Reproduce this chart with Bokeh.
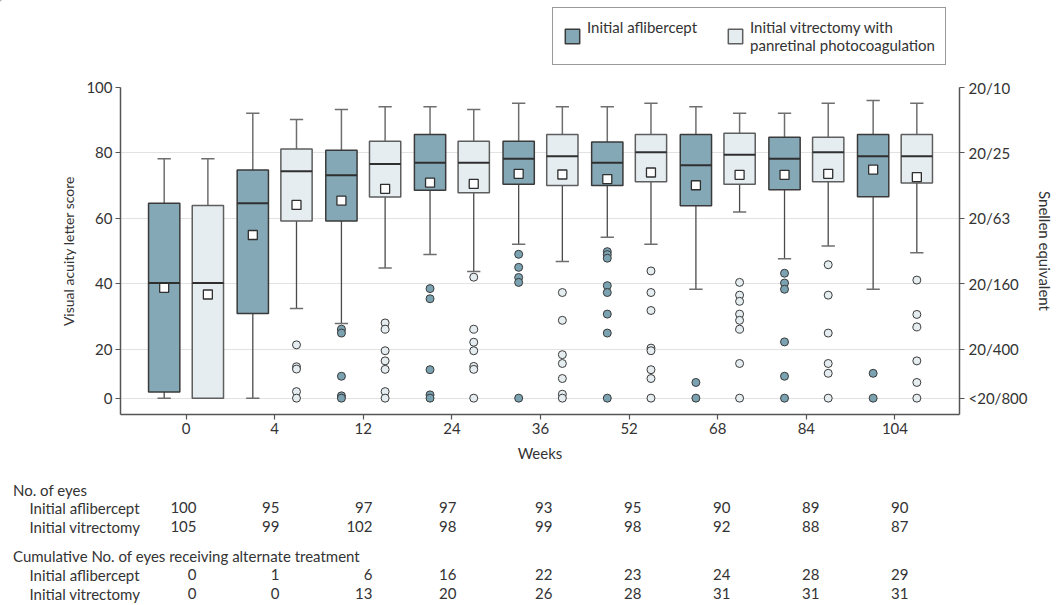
from bokeh.plotting import figure
from bokeh.models import ColumnDataSource, Range1d, LinearAxis, FixedTicker, Legend, LegendItem
from bokeh.layouts import column
from bokeh.embed import file_html
from bokeh.resources import INLINE
from bokeh.core.properties import value

FONT = "Lato"
TXT = "#333333"
FS = "15px"

# ---------------- data ----------------
weeks = ["0", "4", "12", "24", "36", "52", "68", "84", "104"]

# Initial aflibercept (plotted letter-score positions; the "0" line sits at 5)
aff_low = [5, 5, 27.8, 48.9, 52.1, 54.2, 38.3, 47.6, 38.3]
aff_q1 = [6.9, 30.9, 59.2, 68.6, 70.4, 70.0, 63.8, 68.7, 66.6]
aff_med = [40.2, 64.6, 73.2, 77.0, 78.2, 77.0, 76.2, 78.2, 79.0]
aff_q3 = [64.6, 74.8, 80.8, 85.6, 83.6, 83.3, 85.6, 84.8, 85.6]
aff_high = [78.2, 92.1, 93.3, 94.1, 95.2, 94.1, 94.1, 92.1, 96.0]
aff_mean = [38.7, 54.9, 65.4, 70.9, 73.6, 72.0, 70.1, 73.3, 74.9]
aff_out = [
    [],
    [],
    [26.1, 24.9, 11.7, 5.7, 5],
    [38.5, 35.4, 13.7, 6.0, 5],
    [49.0, 45.0, 41.9, 40.4, 5],
    [49.8, 48.9, 47.8, 39.4, 37.3, 30.7, 24.9, 5],
    [9.8, 5],
    [43.2, 40.2, 38.3, 22.2, 11.7, 5],
    [12.6, 5],
]

# Initial vitrectomy with panretinal photocoagulation
vit_low = [5, 32.4, 44.8, 43.7, 46.8, 52.1, 61.9, 51.5, 49.5]
vit_q1 = [5, 59.2, 66.5, 67.8, 70.0, 71.2, 70.4, 71.2, 70.8]
vit_med = [40.2, 74.4, 76.6, 77.0, 79.0, 80.2, 79.4, 80.2, 79.0]
vit_q3 = [63.9, 81.2, 83.6, 83.6, 85.6, 85.6, 86.0, 84.8, 85.6]
vit_high = [78.2, 90.2, 94.1, 93.3, 94.1, 95.2, 92.1, 95.2, 95.2]
vit_mean = [36.7, 64.1, 69.0, 70.5, 73.4, 74.0, 73.3, 73.6, 72.6]
vit_out = [
    [],
    [21.3, 14.6, 13.9, 7.0, 5],
    [28.0, 26.1, 19.5, 16.4, 13.8, 7.0, 5],
    [42.0, 26.1, 22.1, 19.5, 14.7, 13.8, 5],
    [37.3, 28.8, 18.3, 15.6, 11.0, 6.2, 5],
    [43.9, 37.3, 31.8, 20.3, 19.5, 13.7, 11.0, 5],
    [40.4, 36.5, 34.6, 30.7, 28.8, 26.1, 15.6, 5],
    [45.8, 36.5, 24.9, 15.6, 12.6, 5],
    [41.1, 30.6, 26.8, 16.4, 9.8, 5],
]

score_ticks = [5, 20, 40, 60, 80, 100]
score_labels = ["0", "20", "40", "60", "80", "100"]
snellen_labels = ["<20/800", "20/400", "20/160", "20/63", "20/25", "20/10"]

n_aff = [100, 95, 97, 97, 93, 95, 90, 89, 90]
n_vit = [105, 99, 102, 98, 99, 98, 92, 88, 87]
alt_aff = [0, 1, 6, 16, 22, 23, 24, 28, 29]
alt_vit = [0, 0, 13, 20, 26, 28, 31, 31, 31]

# ---------------- layout / style ----------------
AFF_FILL = "#84a8b6"
VIT_FILL = "#e5edf1"
AFF_OUT = "#7ba2b1"
AFF_LINE = "#3a3a3a"
VIT_LINE = "#5e5e5e"
OFF = 0.2465
BW = 0.353
CAP = 0.15

W = 1057
LH, CH, TH = 74, 396, 133      # legend strip, chart, table heights
FL, FR = 120, 965              # chart frame left / right (px)

# ---------------- legend strip ----------------
lf = figure(width=W, height=LH, output_backend="svg", toolbar_location=None,
            x_range=Range1d(0, W), y_range=Range1d(LH, 0),
            x_axis_location=None, y_axis_location=None, min_border=0, frame_align=False)
lf.outline_line_color = None
lf.xgrid.visible = False
lf.ygrid.visible = False
# swatch carriers kept outside the visible strip; only their legend glyphs show
leg_a = lf.vbar(x=[-100], top=[-100], bottom=[-120], width=1,
                fill_color=AFF_FILL, line_color=AFF_LINE, line_width=1.5)
leg_v = lf.vbar(x=[-100], top=[-100], bottom=[-120], width=1,
                fill_color=VIT_FILL, line_color=VIT_LINE, line_width=1.5)
legend = Legend(items=[
    LegendItem(label="Initial aflibercept\n\u00a0", renderers=[leg_a]),
    LegendItem(label="Initial vitrectomy with\npanretinal photocoagulation", renderers=[leg_v]),
], orientation="horizontal", location=(552, 9), margin=0, padding=10,
    spacing=29, label_standoff=6, glyph_width=18, glyph_height=18,
    label_text_font=FONT, label_text_font_size=FS, label_text_color=TXT,
    border_line_color="#333333", border_line_width=1.2, background_fill_alpha=1)
lf.add_layout(legend, "center")

# ---------------- chart ----------------
p = figure(width=W, height=CH, output_backend="svg", toolbar_location=None,
           x_range=Range1d(-0.7395, 8.728), y_range=Range1d(0, 100),
           min_border_left=FL, min_border_right=W - FR,
           min_border_top=13, min_border_bottom=56, frame_align=False)
p.outline_line_color = None
p.xgrid.visible = False
p.ygrid.grid_line_color = "#e2e2e2"
p.ygrid.grid_line_width = 1.2


def group_source(offset, low, q1, med, q3, high, mean):
    xs = [i + offset for i in range(len(weeks))]
    return ColumnDataSource(dict(
        x=xs, xl=[x - BW / 2 for x in xs], xr=[x + BW / 2 for x in xs],
        cl=[x - CAP / 2 for x in xs], cr=[x + CAP / 2 for x in xs],
        low=low, q1=q1, med=med, q3=q3, high=high, mean=mean))


def draw_group(src, fill, line, out_lists, out_fill, offset):
    p.segment(x0="x", y0="q3", x1="x", y1="high", source=src, line_color="#6e6e6e", line_width=1.5)
    p.segment(x0="x", y0="q1", x1="x", y1="low", source=src, line_color="#4a4a4a", line_width=1.3)
    p.segment(x0="cl", y0="high", x1="cr", y1="high", source=src, line_color="#6e6e6e", line_width=1.5)
    p.segment(x0="cl", y0="low", x1="cr", y1="low", source=src, line_color="#6e6e6e", line_width=1.5)
    p.vbar(x="x", width=BW, top="q3", bottom="q1", source=src,
           fill_color=fill, line_color=line, line_width=1.5)
    p.segment(x0="xl", y0="med", x1="xr", y1="med", source=src, line_color="#2f2f2f", line_width=2)
    p.scatter(x="x", y="mean", source=src, marker="square", size=9,
              fill_color="white", line_color="#2f2f2f", line_width=1.3)
    ox, oy = [], []
    for i, vals in enumerate(out_lists):
        for v in vals:
            ox.append(i + offset)
            oy.append(v)
    p.scatter(x=ox, y=oy, marker="circle", size=8, fill_color=out_fill,
              line_color="#3a3a3a", line_width=1)


src_a = group_source(-OFF, aff_low, aff_q1, aff_med, aff_q3, aff_high, aff_mean)
src_v = group_source(OFF, vit_low, vit_q1, vit_med, vit_q3, vit_high, vit_mean)
draw_group(src_a, AFF_FILL, AFF_LINE, aff_out, AFF_OUT, -OFF)
draw_group(src_v, VIT_FILL, VIT_LINE, vit_out, VIT_FILL, OFF)

ax = p.xaxis[0]
ax.ticker = FixedTicker(ticks=list(range(len(weeks))))
ax.major_label_overrides = {i: w for i, w in enumerate(weeks)}
ax.axis_label = "Weeks"

ay = p.yaxis[0]
ay.ticker = FixedTicker(ticks=score_ticks)
ay.major_label_overrides = dict(zip(score_ticks, score_labels))
ay.axis_label = "Visual acuity letter score"

ar = LinearAxis(ticker=FixedTicker(ticks=score_ticks),
                major_label_overrides=dict(zip(score_ticks, snellen_labels)),
                axis_label="Snellen equivalent")
p.add_layout(ar, "right")

for a in (ax, ay, ar):
    a.minor_tick_line_color = None
    a.major_tick_in = 0
    a.major_tick_out = 5
    a.major_tick_line_color = "#555555"
    a.major_tick_line_width = 1.2
    a.axis_line_color = "#555555"
    a.axis_line_width = 1.5
    a.major_label_text_font = FONT
    a.major_label_text_font_size = FS
    a.major_label_text_color = TXT
    a.axis_label_text_font = FONT
    a.axis_label_text_font_size = FS
    a.axis_label_text_font_style = "normal"
    a.axis_label_text_color = TXT
ay.axis_label_text_font_size = "14px"
ax.major_label_standoff = 3
ax.axis_label_standoff = 7
ay.major_label_standoff = 3
ay.axis_label_standoff = 6
ar.major_label_standoff = 4
ar.axis_label_standoff = 6

# ---------------- table ----------------
t = figure(width=W, height=TH, output_backend="svg", toolbar_location=None,
           x_range=Range1d(0, W), y_range=Range1d(TH, 0),
           x_axis_location=None, y_axis_location=None, min_border=0, frame_align=False)
t.outline_line_color = None
t.xgrid.visible = False
t.ygrid.visible = False

col_right = [196, 279, 372, 456, 552, 641, 730, 819, 908]
row_y = [19, 37, 56, 85, 104, 123]
TXT_KW = dict(text_font=value(FONT), text_font_size=FS, text_color=TXT, text_baseline="middle")

t.text(x=[12.5, 12.5], y=[row_y[0], row_y[3]],
       text=["No. of eyes", "Cumulative No. of eyes receiving alternate treatment"],
       text_align="left", **TXT_KW)
t.text(x=[29] * 4, y=[row_y[1], row_y[2], row_y[4], row_y[5]],
       text=["Initial aflibercept", "Initial vitrectomy", "Initial aflibercept", "Initial vitrectomy"],
       text_align="left", **TXT_KW)
for vals, ry in zip([n_aff, n_vit, alt_aff, alt_vit], [row_y[1], row_y[2], row_y[4], row_y[5]]):
    t.text(x=col_right, y=[ry] * len(vals), text=[str(v) for v in vals],
           text_align="right", **TXT_KW)

layout = column(lf, p, t, spacing=0)
open("out.html", "w").write(file_html(layout, INLINE))
